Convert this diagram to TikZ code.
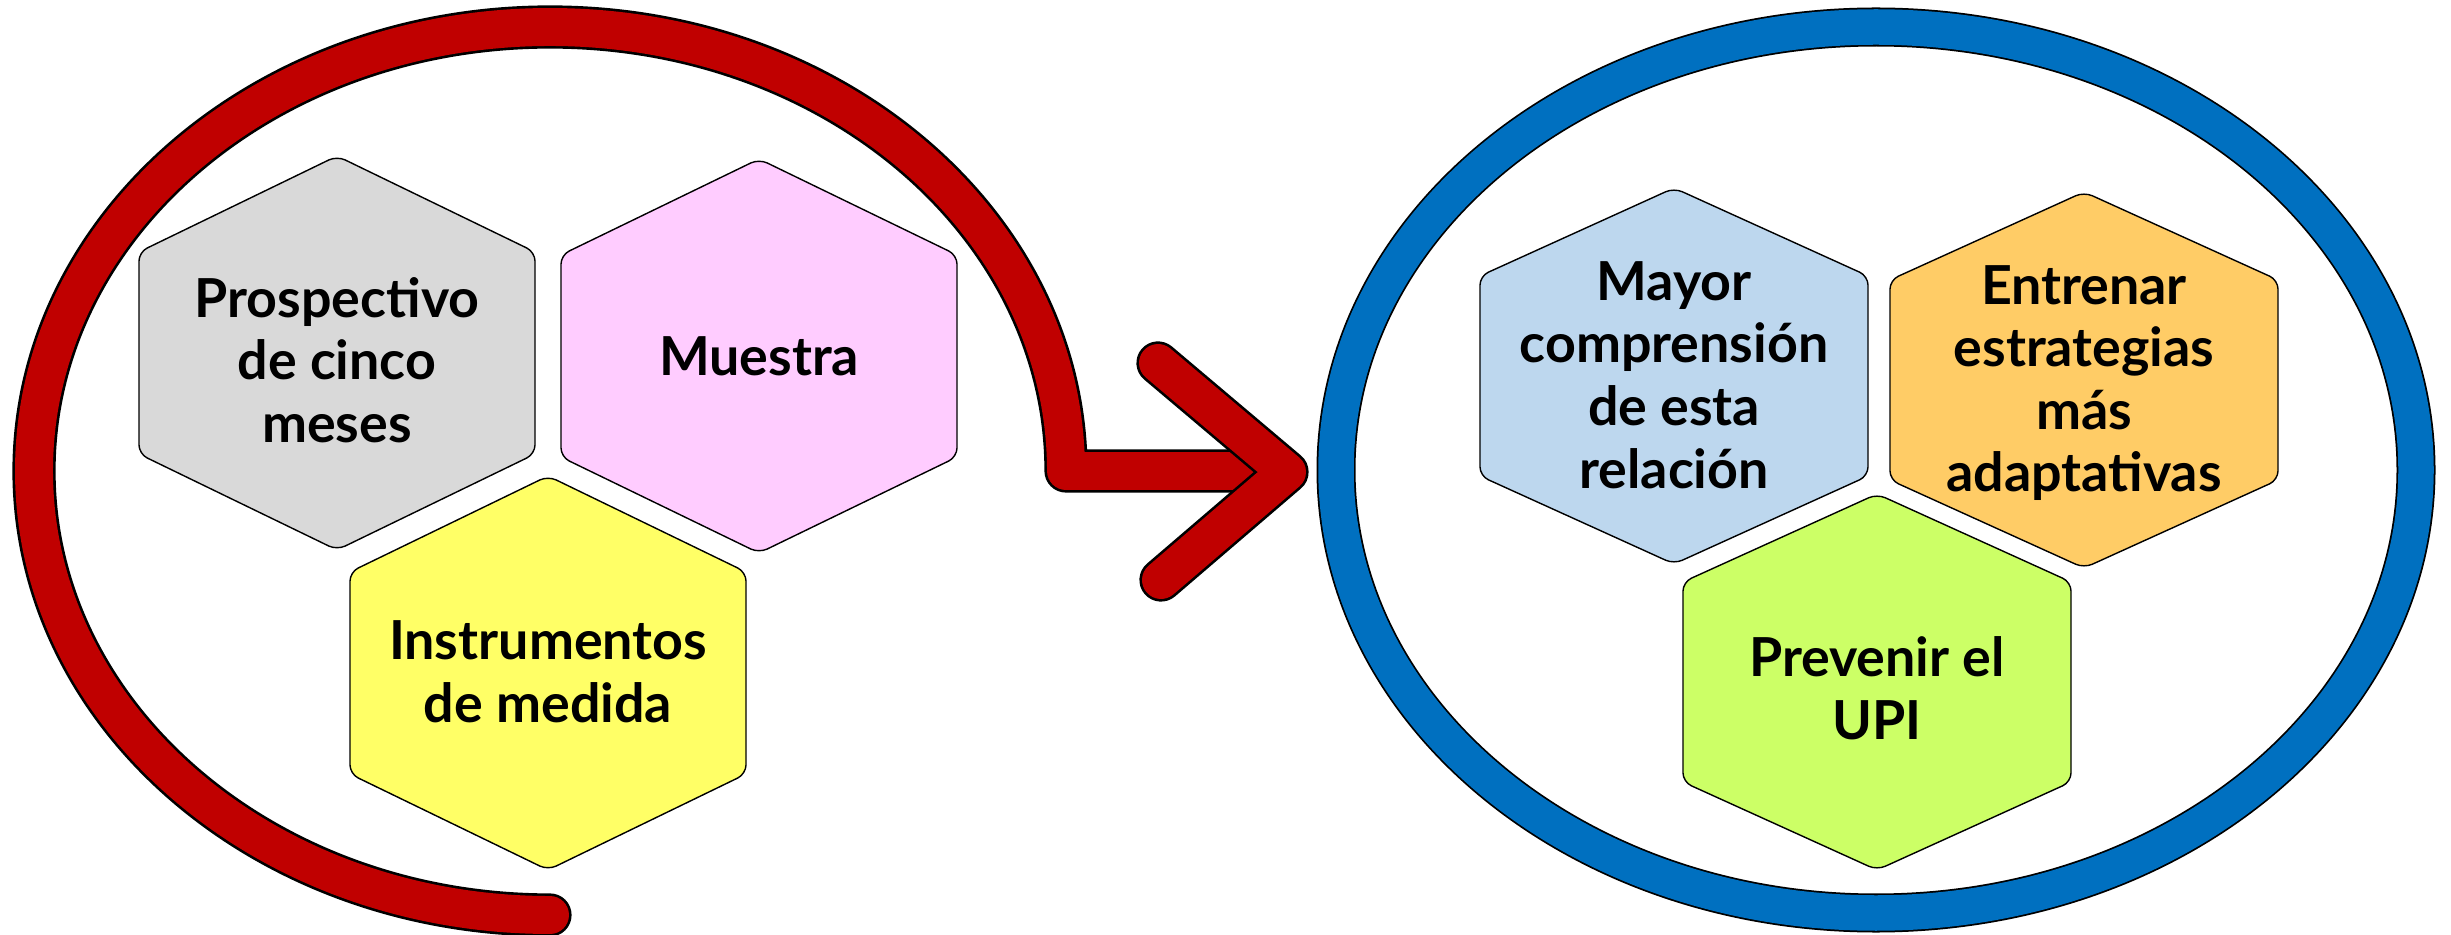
\documentclass[tikz,border=0pt]{standalone}
\usepackage{fontspec}
\setmainfont{Lato}
\definecolor{redc}{HTML}{C00000}
\definecolor{bluec}{HTML}{0070C0}
\definecolor{greyc}{HTML}{D9D9D9}
\definecolor{pinkc}{HTML}{FFCCFF}
\definecolor{yellowc}{HTML}{FFFF66}
\definecolor{lbluec}{HTML}{BDD7EE}
\definecolor{orangec}{HTML}{FFCC66}
\definecolor{greenc}{HTML}{CCFF66}
\newcommand{\myhex}[6]{%
  \draw[hexbox,fill=#6] ({#1},{#2-#4}) -- ({#1+#3},{#2-#5}) -- ({#1+#3},{#2+#5}) -- ({#1},{#2+#4}) -- ({#1-#3},{#2+#5}) -- ({#1-#3},{#2-#5}) -- cycle;}
\begin{document}
\begin{tikzpicture}[x=0.1mm,y=-0.1mm,
  hexbox/.style={draw=black,line width=0.4pt,rounded corners=0.9mm},
  lbl/.style={align=center,font=\fontsize{15.3}{17.8}\selectfont\bfseries,text=black,inner sep=0pt},
  outerband/.style={line width=12.3pt,draw=black,line cap=round,line join=round},
  innerband/.style={line width=10.8pt,draw=redc,line cap=round,line join=round},
  blueouter/.style={line width=11.1pt,draw=black},
  blueinner/.style={line width=10.1pt,draw=bluec}]
\useasboundingbox (0,0) rectangle (2451,935);
\fill[white] (0,0) rectangle (2451,935);

% red curved arrow
\coordinate (rstart) at (550,915);
\coordinate (rbarend) at (1270,471);
\coordinate (armtop) at (1158,363);
\coordinate (tip) at (1287,472);
\coordinate (armbot) at (1161,580);
\draw[outerband] (rstart) arc[start angle=90,end angle=360,x radius=516,y radius=444] -- (rbarend);
\draw[innerband] (rstart) arc[start angle=90,end angle=360,x radius=516,y radius=444] -- (rbarend);
\draw[outerband] (armtop) -- (tip) -- (armbot);
\draw[innerband] (armtop) -- (tip) -- (armbot);

% blue ring
\draw[blueouter] (1876,470) ellipse[x radius=540,y radius=443];
\draw[blueinner] (1876,470) ellipse[x radius=540,y radius=443];

% left hexagons
\myhex{337}{353}{198}{197}{101}{greyc}
\myhex{759}{356}{198}{197}{101}{pinkc}
\myhex{548}{673}{198}{197}{101}{yellowc}
\node[lbl] (prosp) at (337,360) {Prospectivo\\de cinco\\meses};
\node[lbl] (muestra) at (759,356) {Muestra};
\node[lbl] (instr) at (548,672) {Instrumentos\\de medida};

% right hexagons
\myhex{1674}{376}{194}{188}{100}{lbluec}
\myhex{2084}{380}{194}{188}{100}{orangec}
\myhex{1877}{682}{194}{188}{100}{greenc}
\node[lbl] (mayor) at (1674,375) {Mayor\\comprensión\\de esta\\relación};
\node[lbl] (entrenar) at (2084,383) {Entrenar\\estrategias\\más\\adaptativas};
\node[lbl] (prevenir) at (1877,688) {Prevenir el\\UPI};
\end{tikzpicture}
\end{document}
